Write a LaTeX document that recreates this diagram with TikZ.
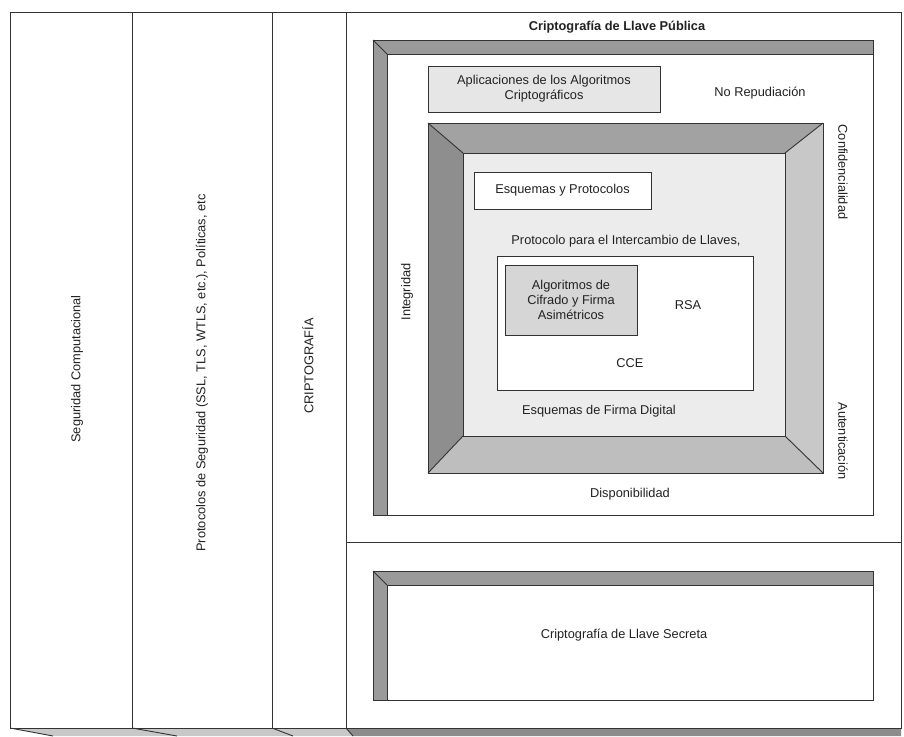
\documentclass[tikz,border=0pt]{standalone}
\usepackage{fontspec}
\setmainfont{Liberation Sans}
\definecolor{linegray}{HTML}{333333}
\definecolor{txt}{HTML}{222222}
\definecolor{band}{HTML}{9A9A9A}
\definecolor{bevtop}{HTML}{A2A2A2}
\definecolor{bevleft}{HTML}{8E8E8E}
\definecolor{bevright}{HTML}{C8C8C8}
\definecolor{bevbottom}{HTML}{BEBEBE}
\definecolor{innerfill}{HTML}{ECECEC}
\definecolor{aplfill}{HTML}{E6E6E6}
\definecolor{algfill}{HTML}{D6D6D6}
\definecolor{facelight}{HTML}{C8C8C8}
\definecolor{facedark}{HTML}{8C8C8C}
\begin{document}
\begin{tikzpicture}[x=1pt,y=-1pt,
  edge/.style={draw=linegray, line width=0.9pt},
  lbl/.style={font=\fontsize{12.8}{15}\selectfont, text=txt, inner sep=0pt, align=center},
  boxnode/.style={edge, inner sep=0pt, align=center, text=txt, font=\fontsize{12.8}{15}\selectfont}]
\useasboundingbox (0,0) rectangle (904,736);
\fill[white] (0,0) rectangle (904,736);

% bottom faces of the columns
\fill[facelight] (10,728) -- (346,728) -- (353,736) -- (53,736) -- cycle;
\fill[facedark] (346,728) -- (901,728) -- (901,736) -- (353,736) -- cycle;
\draw[edge] (10,728) -- (53,736);
\draw[edge] (132,728) -- (177,736);
\draw[edge] (272,728) -- (293,736);
\draw[edge] (346,728) -- (353,736);

% columns
\draw[edge] (10,12) rectangle (132,728);
\draw[edge] (132,12) rectangle (272,728);
\draw[edge] (272,12) rectangle (346,728);
\draw[edge] (346,12) rectangle (901,728);
\draw[edge] (346,542) -- (901,542);

\node[lbl, rotate=90] (seg) at (77,369) {Seguridad Computacional};
\node[lbl, rotate=90] (prot) at (202,373) {Protocolos de Seguridad (SSL, TLS, WTLS, etc.), Políticas, etc};
\node[lbl, rotate=90] (cripto) at (308,366) {CRIPTOGRAFÍA};

% public key frame
\node[lbl, font=\fontsize{12.8}{15}\selectfont\bfseries] (title) at (617,27) {Criptografía de Llave Pública};
\fill[band] (373,40) rectangle (873,54);
\fill[band] (373,40) rectangle (387,515);
\draw[edge] (373,40) rectangle (873,515);
\draw[edge] (873,54) -- (387,54) -- (387,515);
\draw[edge] (373,40) -- (387,54);

\node[boxnode, fill=aplfill, minimum width=232pt, minimum height=46pt] (apl) at (544,89)
  {Aplicaciones de los Algoritmos\\Criptográficos};
\node[lbl] (norep) at (760,93) {No Repudiación};

% bevelled frame
\coordinate (fo-nw) at (428,123);
\coordinate (fo-ne) at (823,123);
\coordinate (fo-se) at (823,473);
\coordinate (fo-sw) at (428,473);
\coordinate (fi-nw) at (463,153);
\coordinate (fi-ne) at (785,153);
\coordinate (fi-se) at (785,436);
\coordinate (fi-sw) at (463,436);
\fill[bevtop] (fo-nw) -- (fo-ne) -- (fi-ne) -- (fi-nw) -- cycle;
\fill[bevleft] (fo-nw) -- (fi-nw) -- (fi-sw) -- (fo-sw) -- cycle;
\fill[bevright] (fo-ne) -- (fo-se) -- (fi-se) -- (fi-ne) -- cycle;
\fill[bevbottom] (fo-sw) -- (fi-sw) -- (fi-se) -- (fo-se) -- cycle;
\fill[innerfill] (fi-nw) rectangle (fi-se);
\draw[edge] (fo-nw) rectangle (fo-se);
\draw[edge] (fi-nw) rectangle (fi-se);
\draw[edge] (fo-nw) -- (fi-nw) (fo-ne) -- (fi-ne) (fo-se) -- (fi-se) (fo-sw) -- (fi-sw);

\node[boxnode, fill=white, minimum width=177pt, minimum height=37pt] (esq) at (562.5,190.5) {Esquemas y Protocolos};
\node[lbl] (intercambio) at (626,241) {Protocolo para el Intercambio de Llaves,};
\node[boxnode, fill=white, minimum width=256pt, minimum height=134pt] (core) at (625,323) {};
\node[boxnode, fill=algfill, minimum width=132pt, minimum height=70pt] (alg) at (571,300)
  {Algoritmos de\\Cifrado y Firma\\Asimétricos};
\node[lbl] (rsa) at (688,305) {RSA};
\node[lbl] (cce) at (630,363) {CCE};
\node[lbl] (firma) at (599,411) {Esquemas de Firma Digital};
\node[lbl] (disp) at (630,494) {Disponibilidad};
\node[lbl, rotate=90] (integ) at (407,292) {Integridad};
\node[lbl, rotate=-90] (conf) at (843,172) {Confidencialidad};
\node[lbl, rotate=-90] (aut) at (843,441) {Autenticación};

% secret key frame
\fill[band] (373,571) rectangle (873,585);
\fill[band] (373,571) rectangle (387,700);
\draw[edge] (373,571) rectangle (873,700);
\draw[edge] (873,585) -- (387,585) -- (387,700);
\draw[edge] (373,571) -- (387,585);
\node[lbl] (secreta) at (624,635) {Criptografía de Llave Secreta};
\end{tikzpicture}
\end{document}
